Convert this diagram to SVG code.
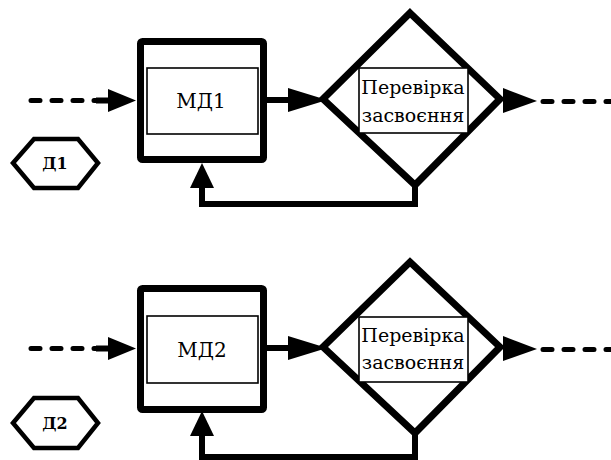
<svg xmlns="http://www.w3.org/2000/svg" width="611" height="460" viewBox="0 0 611 460">
<style>
.thick{fill:none;stroke:#000;stroke-width:7;stroke-linejoin:miter}
.box{fill:#fff;stroke:#000;stroke-width:7}
.inner{fill:#fff;stroke:#000;stroke-width:1.6}
.hex{fill:#fff;stroke:#000;stroke-width:4.5}
.dash{fill:none;stroke:#000;stroke-width:5;stroke-dasharray:9 12;stroke-linecap:round}
.line{fill:none;stroke:#000;stroke-width:6}
.head{fill:#000}
.t{font-family:"DejaVu Serif","Liberation Serif","Times New Roman",serif;fill:#000;text-anchor:middle}
.lbl{font-size:20px}
.chk{font-size:19px}
.hx{font-size:16px;font-weight:bold}
</style>
<g id="connectors">
  <path class="dash" d="M31 100.5 H100"/>
  <path class="line" d="M96 100.5 H112"/>
  <polygon class="head" points="108,89 136,100.5 108,112"/>
  <path class="line" d="M267 100 H292"/>
  <polygon class="head" points="288,88 327,100 288,112"/>
  <polygon class="head" points="503,88 537,101 503,113"/>
  <path class="dash" d="M543 101.5 H611"/>
  <path class="line" d="M415 184 V204 H202 V184"/>
  <polygon class="head" points="190,188 202,163 214,188"/>
  <path class="dash" d="M31 348.5 H100"/>
  <path class="line" d="M96 348.5 H112"/>
  <polygon class="head" points="108,337 136,348.5 108,360"/>
  <path class="line" d="M267 348 H292"/>
  <polygon class="head" points="288,336 327,348 288,360"/>
  <polygon class="head" points="503,336 537,349 503,361"/>
  <path class="dash" d="M543 349.5 H611"/>
  <path class="line" d="M415 432 V457 H202 V434"/>
  <polygon class="head" points="190,436 202,411 214,436"/>
</g>
<g id="md1">
  <rect class="box" x="140.5" y="41.5" width="123" height="118" rx="2"/>
  <rect class="inner" x="147" y="68" width="111" height="66"/>
  <text class="t lbl" x="201" y="108">МД1</text>
</g>
<g id="check1">
  <polygon class="thick" points="410,13 500,99 415,185 323,99"/>
  <rect class="inner" x="359" y="68" width="109" height="65"/>
  <text class="t chk" x="413" y="94">Перевірка</text>
  <text class="t chk" x="413" y="122">засвоєння</text>
</g>
<g id="d1">
  <polygon class="hex" points="13,163 34,139 78,139 98,163 78,188 34,188"/>
  <text class="t hx" x="55" y="169">Д1</text>
</g>
<g id="md2">
  <rect class="box" x="140.5" y="288.5" width="123" height="121" rx="2"/>
  <rect class="inner" x="147" y="316" width="111" height="67"/>
  <text class="t lbl" x="202" y="357">МД2</text>
</g>
<g id="check2">
  <polygon class="thick" points="410,262 500,347 415,433 323,347"/>
  <rect class="inner" x="359" y="317" width="109" height="65"/>
  <text class="t chk" x="413" y="342">Перевірка</text>
  <text class="t chk" x="413" y="369">засвоєння</text>
</g>
<g id="d2">
  <polygon class="hex" points="13,423 34,398 78,398 98,423 78,448 34,448"/>
  <text class="t hx" x="55" y="429">Д2</text>
</g>
</svg>
